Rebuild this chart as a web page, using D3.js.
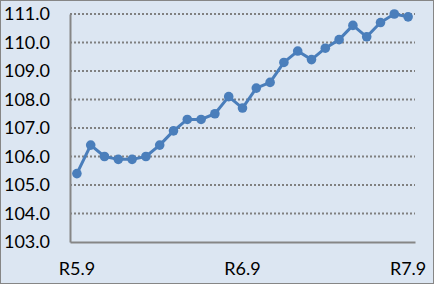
<!DOCTYPE html>
<html>
<head>
<meta charset="utf-8">
<script src="https://cdn.jsdelivr.net/npm/d3@7"></script>
<style>
  html, body { margin: 0; padding: 0; background: #fff; }
  #chart { width: 434px; height: 284px; }
  text { font-family: Lato, "Open Sans", sans-serif; fill: #000; }
</style>
</head>
<body>
<div id="chart"></div>
<script>
let months = ["R5.9", "R5.10", "R5.11", "R5.12", "R6.1", "R6.2", "R6.3", "R6.4", "R6.5",
              "R6.6", "R6.7", "R6.8", "R6.9", "R6.10", "R6.11", "R6.12", "R7.1", "R7.2",
              "R7.3", "R7.4", "R7.5", "R7.6", "R7.7", "R7.8", "R7.9"];
let values = [105.4, 106.4, 106.0, 105.9, 105.9, 106.0, 106.4, 106.9, 107.3,
              107.3, 107.5, 108.1, 107.7, 108.4, 108.6, 109.3, 109.7, 109.4,
              109.8, 110.1, 110.6, 110.2, 110.7, 111.0, 110.9];
let xLabels = ["R5.9", "R6.9", "R7.9"];
let yTicks = [103, 104, 105, 106, 107, 108, 109, 110, 111];

let width = 434, height = 284;
let margin = {left: 70, right: 19, top: 14, bottom: 42};

var svg = d3.select("#chart")
            .append("svg")
            .attr("width", width)
            .attr("height", height);

// chart area background + border
svg.append("rect")
   .attr("x", 0.5).attr("y", 0.5)
   .attr("width", width - 1).attr("height", height - 1)
   .attr("fill", "#dce6f2")
   .attr("stroke", "#868686")
   .attr("stroke-width", 1);

let x = d3.scaleBand()
          .domain(months)
          .range([margin.left, width - margin.right]);

let y = d3.scaleLinear()
          .domain([103, 111])
          .range([height - margin.bottom, margin.top]);

// gridlines
svg.append("g")
   .selectAll("line")
   .data(yTicks.filter(d => d > 103))
   .enter().append("line")
   .attr("x1", margin.left)
   .attr("x2", width - margin.right)
   .attr("y1", d => y(d))
   .attr("y2", d => y(d))
   .attr("stroke", "#808080")
   .attr("stroke-width", 2)
   .attr("stroke-dasharray", "2,2");

// y axis
let yAxis = svg.append("g")
   .attr("transform", "translate(" + margin.left + ",0)")
   .call(d3.axisLeft(y).tickValues(yTicks).tickSize(0).tickPadding(20)
           .tickFormat(d3.format(".1f")));
yAxis.select(".domain").attr("stroke", "#868686").attr("stroke-width", 2);
yAxis.selectAll("text").attr("font-size", "18px");

// x axis
let xAxis = svg.append("g")
   .attr("transform", "translate(0," + (height - margin.bottom) + ")")
   .call(d3.axisBottom(x).tickValues(xLabels).tickSize(0).tickPadding(20));
xAxis.select(".domain").attr("stroke", "#868686").attr("stroke-width", 2);
xAxis.selectAll("text").attr("font-size", "18px");

// line
let cx = (d, i) => x(months[i]) + x.bandwidth() / 2;
svg.append("path")
   .datum(values)
   .attr("fill", "none")
   .attr("stroke", "#4a7ebb")
   .attr("stroke-width", 3)
   .attr("stroke-linejoin", "round")
   .attr("d", d3.line().x(cx).y(d => y(d)));

svg.append("g")
   .selectAll("circle")
   .data(values)
   .enter().append("circle")
   .attr("cx", cx)
   .attr("cy", d => y(d))
   .attr("r", 4.8)
   .attr("fill", "#4a7ebb");
</script>
</body>
</html>
